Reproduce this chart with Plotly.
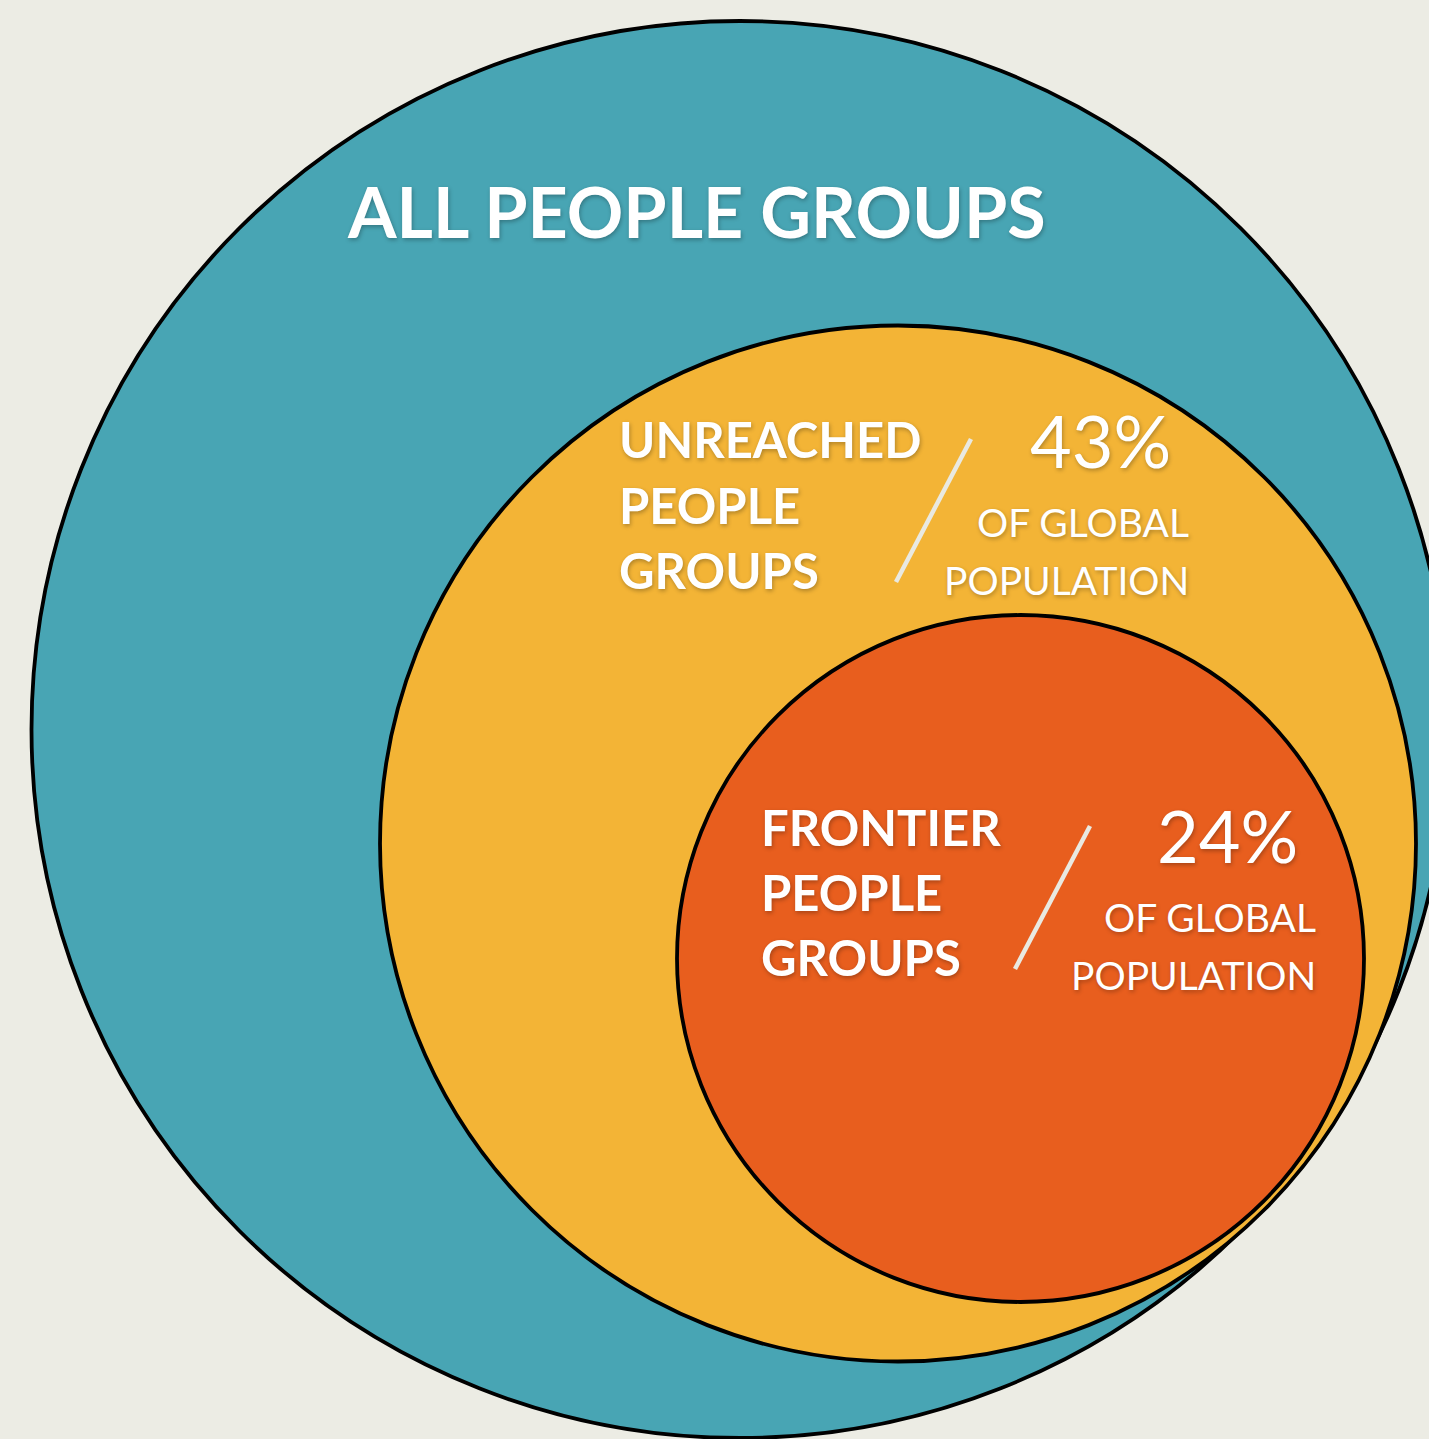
import plotly.graph_objects as go

# ---------------- data ----------------
group_names = ["ALL PEOPLE GROUPS", "UNREACHED PEOPLE GROUPS", "FRONTIER PEOPLE GROUPS"]
circle_cx = [740.0, 898.0, 1020.5]
circle_cy = [729.5, 843.5, 958.5]
circle_r = [708.5, 518.0, 343.5]
circle_colors = ["#48A5B4", "#F3B436", "#E85E1E"]

unreached_label = ["UNREACHED", "PEOPLE", "GROUPS"]
frontier_label = ["FRONTIER", "PEOPLE", "GROUPS"]
share_values = ["43%", "24%"]
share_caption = ["OF GLOBAL", "POPULATION"]

W, H = 1429, 1439
BG = "#ECECE4"
FONT = "Lato"
SHADOW = "1px 2px 4px rgba(0,0,0,0.28)"

fig = go.Figure()
fig.add_trace(go.Scatter(x=[0, W], y=[0, H], mode="markers",
                         marker=dict(opacity=0), hoverinfo="skip", showlegend=False))

shapes = []
for cx, cy, r, col in zip(circle_cx, circle_cy, circle_r, circle_colors):
    shapes.append(dict(type="circle", xref="x", yref="y",
                       x0=cx - r, x1=cx + r, y0=cy - r, y1=cy + r,
                       fillcolor=col, line=dict(color="#000000", width=3.8),
                       layer="below"))

# slashes
slash_color = "#E9E9E1"
shapes.append(dict(type="line", xref="x", yref="y", x0=971, y0=439, x1=896, y1=582,
                   line=dict(color=slash_color, width=4.5), layer="above"))
shapes.append(dict(type="line", xref="x", yref="y", x0=1090, y0=826, x1=1015, y1=969,
                   line=dict(color=slash_color, width=4.5), layer="above"))

ann = []

def txt(text, x, y, size, xanchor, weight=700):
    ann.append(dict(text=text, x=x, y=y, xref="x", yref="y", showarrow=False,
                    xanchor=xanchor, yanchor="middle",
                    font=dict(family=FONT, size=size, color="#FFFFFF",
                              weight=weight, shadow=SHADOW)))

# outer title
txt(group_names[0], 696, 211, 70, "center")

# unreached group
for line, yc in zip(unreached_label, [439, 504.5, 569.5]):
    txt(line, 617, yc, 49, "left")
txt(share_values[0], 1100, 440, 72, "center", 400)
txt(share_caption[0], 1191, 522, 39, "right", 400)
txt(share_caption[1], 1191, 580, 39, "right", 400)

# frontier group
for line, yc in zip(frontier_label, [826.5, 891.5, 956.5]):
    txt(line, 759, yc, 49, "left")
txt(share_values[1], 1227, 835, 72, "center", 400)
txt(share_caption[0], 1318, 916.5, 39, "right", 400)
txt(share_caption[1], 1318, 974.5, 39, "right", 400)

fig.update_layout(
    width=W, height=H,
    margin=dict(l=0, r=0, t=0, b=0),
    paper_bgcolor=BG, plot_bgcolor=BG,
    shapes=shapes, annotations=ann,
    xaxis=dict(range=[0, W], visible=False, fixedrange=True),
    yaxis=dict(range=[H, 0], visible=False, fixedrange=True),
    showlegend=False,
)

fig.write_html("out.html")
